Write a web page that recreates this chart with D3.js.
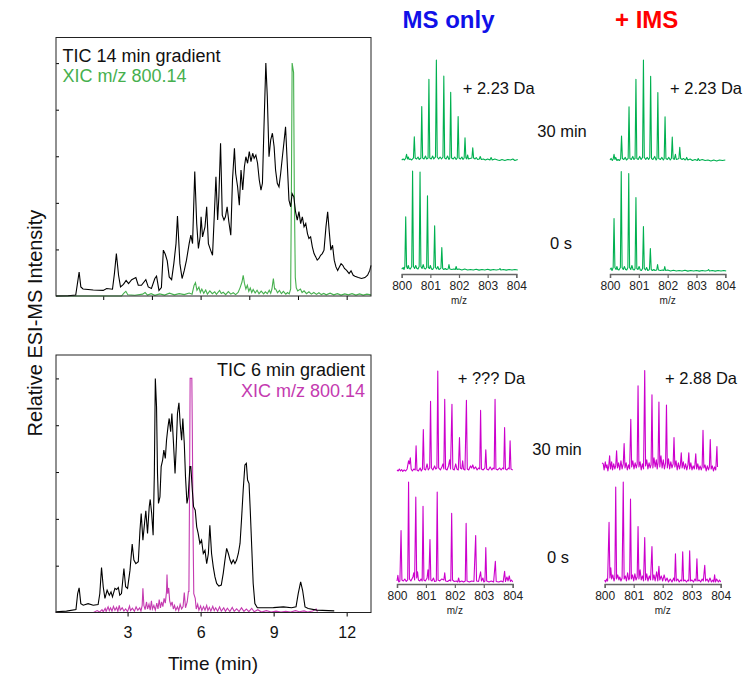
<!DOCTYPE html>
<html>
<head>
<meta charset="utf-8">
<script src="https://cdn.jsdelivr.net/npm/d3@7"></script>
<style>
body { margin: 0; background: #fff; }
text { font-family: "Liberation Sans", Arial, sans-serif; }
</style>
</head>
<body>
<div id="chart"></div>
<script>
// ---- chromatograms: [time (min), relative intensity] ----
var tic14 = [[0.06,0],[0.56,0.1],[0.87,0.4],[0.94,5.3],[1.01,10.3],[1.08,3.9],[1.17,3.0],[1.59,2.6],[2.0,2.4],[2.14,3.2],[2.38,2.9],[2.46,9.6],[2.54,18.2],[2.63,8.9],[2.71,3.9],[2.83,5.0],[2.94,6.7],[3.04,5.3],[3.17,7.0],[3.34,7.9],[3.44,4.6],[3.57,4.6],[3.75,7.0],[3.85,3.9],[3.98,3.2],[4.12,7.5],[4.19,8.5],[4.29,2.4],[4.39,3.6],[4.47,19.7],[4.55,17.9],[4.63,15.1],[4.71,8.2],[4.81,7.0],[4.90,13.9],[4.99,22.5],[5.05,34.3],[5.15,13.9],[5.24,7.5],[5.33,11.0],[5.42,15.4],[5.53,22.5],[5.60,26.1],[5.67,22.5],[5.76,53.4],[5.84,31.1],[5.91,20.4],[5.98,25.4],[6.02,34.0],[6.08,25.4],[6.18,29.7],[6.25,38.3],[6.32,22.5],[6.41,19.7],[6.49,17.5],[6.56,34.0],[6.63,51.2],[6.70,32.6],[6.75,42.6],[6.82,65.6],[6.89,34.7],[6.96,32.6],[7.02,34.0],[7.09,38.3],[7.16,31.9],[7.24,26.1],[7.31,49.8],[7.39,63.4],[7.44,52.7],[7.52,46.9],[7.59,39.0],[7.66,54.1],[7.73,45.5],[7.80,55.5],[7.86,59.8],[7.93,57.0],[8.00,62.0],[8.07,57.7],[8.14,61.3],[8.20,59.1],[8.27,60.5],[8.34,57.0],[8.41,49.8],[8.48,45.5],[8.54,48.4],[8.60,71.3],[8.68,100],[8.74,85.7],[8.81,59.8],[8.88,67.0],[8.95,69.9],[9.02,64.1],[9.08,54.1],[9.15,48.4],[9.22,46.9],[9.29,52.7],[9.36,59.8],[9.42,65.6],[9.49,72.7],[9.56,57.0],[9.63,41.2],[9.70,38.3],[9.76,44.0],[9.83,42.6],[9.90,36.2],[9.97,32.6],[10.04,36.2],[10.11,31.1],[10.18,34.0],[10.25,29.7],[10.32,31.1],[10.39,26.8],[10.45,24.7],[10.52,25.4],[10.59,21.1],[10.66,18.2],[10.73,16.8],[10.79,15.4],[10.86,16.1],[10.93,17.5],[11.00,18.2],[11.07,19.7],[11.15,29.7],[11.22,36.2],[11.28,28.3],[11.35,19.7],[11.42,21.8],[11.49,15.4],[11.56,12.5],[11.63,11.0],[11.70,12.5],[11.77,13.9],[11.84,13.2],[11.91,11.8],[12.00,11.0],[12.10,9.6],[12.18,10.8],[12.27,8.9],[12.34,8.5],[12.48,7.9],[12.61,7.5],[12.75,7.9],[12.86,8.9],[12.95,11.0],[13.0,13.2]];

var xic14 = [[0.06,0],[2.75,0],[2.85,1.2],[2.93,2.0],[3.01,0.5],[3.3,0.3],[3.62,0.8],[3.72,1.5],[3.82,0.4],[3.97,1.0],[4.12,0.3],[4.32,0.9],[4.52,0.4],[4.72,1.2],[4.92,0.5],[5.12,1.0],[5.33,0.6],[5.53,1.3],[5.65,0.8],[5.73,4.5],[5.79,5.7],[5.85,2.5],[5.93,3.8],[5.99,1.5],[6.05,3.0],[6.13,1.2],[6.21,2.6],[6.28,0.8],[6.38,2.2],[6.48,1.0],[6.58,1.8],[6.65,0.7],[6.78,2.4],[6.85,1.1],[6.93,1.6],[7.03,0.6],[7.14,1.9],[7.24,0.8],[7.34,1.4],[7.44,0.6],[7.54,1.5],[7.62,3.5],[7.70,6.0],[7.75,8.9],[7.80,5.5],[7.86,3.0],[7.92,4.6],[7.98,2.0],[8.04,3.4],[8.10,1.5],[8.16,2.8],[8.24,1.3],[8.32,2.5],[8.4,1.0],[8.49,2.1],[8.59,0.9],[8.66,1.8],[8.74,1.0],[8.82,2.5],[8.88,1.2],[8.93,3.0],[8.99,7.5],[9.04,3.0],[9.08,3.1],[9.16,1.4],[9.24,2.4],[9.32,1.0],[9.4,2.0],[9.5,0.8],[9.57,1.5],[9.64,0.9],[9.70,3.0],[9.73,45],[9.76,100],[9.82,96],[9.85,45],[9.89,8],[9.93,3.5],[9.99,2.2],[10.1,3.0],[10.17,1.5],[10.25,2.2],[10.35,1.0],[10.45,1.8],[10.55,0.8],[10.65,1.5],[10.76,0.7],[10.86,1.4],[10.96,0.6],[11.06,1.1],[11.16,0.5],[11.32,1.2],[11.47,0.5],[11.62,1.0],[11.77,0.4],[11.92,0.9],[12.07,0.5],[12.22,1.0],[12.38,0.4],[12.53,0.9],[12.68,0.4],[12.83,0.8],[13.0,0.5]];

var tic6 = [[0.05,0.3],[0.49,0.6],[0.88,1.3],[0.95,8.1],[1.01,10.5],[1.08,3.8],[1.18,3.1],[1.38,3.8],[1.59,3.1],[1.79,3.4],[1.86,8.1],[1.93,19.2],[2.0,11.0],[2.07,6.0],[2.16,9.5],[2.25,7.4],[2.32,8.8],[2.38,6.7],[2.48,10.3],[2.55,9.8],[2.62,10.7],[2.68,7.4],[2.75,8.1],[2.85,18.8],[2.92,11.0],[3.0,10.3],[3.10,18.1],[3.19,29.2],[3.26,22.4],[3.34,20.9],[3.44,21.7],[3.51,35.2],[3.56,42.3],[3.63,30.9],[3.71,39.5],[3.75,43.4],[3.82,33.8],[3.89,45.2],[3.93,48.3],[3.99,42.3],[4.05,33.0],[4.10,59.4],[4.14,100],[4.19,87.9],[4.23,59.4],[4.27,46.6],[4.33,49.4],[4.38,62.3],[4.44,65.1],[4.49,69.4],[4.55,65.8],[4.60,73.6],[4.66,79.3],[4.71,82.9],[4.77,77.2],[4.82,85.0],[4.88,73.6],[4.95,59.4],[5.0,70.8],[5.05,85.0],[5.11,89.6],[5.16,80.8],[5.22,73.6],[5.27,82.9],[5.33,72.2],[5.38,58.0],[5.44,46.6],[5.49,49.4],[5.56,62.3],[5.60,62.3],[5.66,52.3],[5.71,45.2],[5.78,43.7],[5.84,36.6],[5.90,33.8],[5.97,29.5],[6.04,30.9],[6.11,25.2],[6.18,26.6],[6.25,20.9],[6.32,25.2],[6.38,37.3],[6.45,25.2],[6.52,19.5],[6.59,15.2],[6.66,12.4],[6.75,11.3],[6.85,11.7],[6.93,16.7],[7.0,22.4],[7.07,27.4],[7.14,25.2],[7.21,22.4],[7.27,20.9],[7.34,22.4],[7.41,20.9],[7.48,22.4],[7.55,25.2],[7.62,29.5],[7.68,39.5],[7.75,52.3],[7.82,63.0],[7.88,63.7],[7.93,56.6],[7.99,55.1],[8.04,43.7],[8.10,28.1],[8.16,12.4],[8.23,3.8],[8.33,2.0],[8.58,2.0],[8.99,2.1],[9.40,2.4],[9.74,2.0],[9.92,2.4],[10.01,8.1],[10.11,13.1],[10.19,9.5],[10.29,2.4],[10.42,1.7],[10.77,1.0],[11.49,0.7]];

var xic6 = [[0.05,0],[1.6,0],[1.75,0.8],[1.85,0.2],[1.95,1.2],[2.0,0.3],[2.08,1.8],[2.12,0.5],[2.2,2.4],[2.25,0.8],[2.3,2.0],[2.36,0.6],[2.42,2.6],[2.48,1.0],[2.55,2.2],[2.6,0.5],[2.66,3.0],[2.7,1.0],[2.78,2.0],[2.85,0.6],[2.92,1.5],[3.0,0.4],[3.08,2.8],[3.12,0.8],[3.2,1.8],[3.28,0.5],[3.35,2.4],[3.42,1.0],[3.5,2.0],[3.55,0.6],[3.6,3.0],[3.63,10.3],[3.67,3.0],[3.72,1.2],[3.78,4.5],[3.82,1.5],[3.88,3.5],[3.93,1.0],[3.98,5.0],[4.02,1.5],[4.08,3.0],[4.14,1.0],[4.2,4.0],[4.25,1.5],[4.3,5.5],[4.35,2.0],[4.4,4.5],[4.45,2.5],[4.5,6.0],[4.55,4.0],[4.6,9.0],[4.62,16.2],[4.65,8.0],[4.69,10.5],[4.73,5.0],[4.78,3.0],[4.83,4.5],[4.88,1.5],[4.93,3.0],[4.98,1.0],[5.05,2.5],[5.1,0.8],[5.16,3.5],[5.22,1.5],[5.28,2.5],[5.33,8.5],[5.38,2.0],[5.45,4.5],[5.50,9.0],[5.52,9],[5.55,60],[5.57,100],[5.64,100],[5.66,78],[5.69,35],[5.72,8],[5.78,6.0],[5.82,1.5],[5.88,3.5],[5.93,1.0],[6.0,2.8],[6.05,0.8],[6.12,2.5],[6.18,1.0],[6.25,3.0],[6.3,0.8],[6.36,2.2],[6.42,0.6],[6.5,2.6],[6.56,0.8],[6.62,2.0],[6.7,0.5],[6.78,2.4],[6.85,0.6],[6.95,2.0],[7.02,0.5],[7.1,1.8],[7.2,0.4],[7.3,2.2],[7.38,0.5],[7.48,1.6],[7.58,0.4],[7.68,2.0],[7.78,0.5],[7.88,1.5],[7.98,0.4],[8.1,1.8],[8.2,0.3],[8.35,1.2],[8.5,0.2],[8.7,0.8],[8.9,0.2],[9.1,0.6],[9.3,0.2],[9.5,0.5],[9.7,0.2],[9.9,0.8],[10.05,0.3],[10.25,0.7],[10.4,0.2],[10.6,0.6],[10.75,1.5],[10.8,0.3]];

var topTicks = [2, 4, 6, 8, 10, 12];
var bottomTicks = [3, 6, 9, 12];
var yTicks = [20, 40, 60, 80, 100];

// ---- mass spectra: [m/z, relative intensity] ----
var ms14_30min = [[800.00,1],[800.05,2],[800.10,1],[800.14,3],[800.17,6.6],[800.20,2],[800.23,4],[800.26,1.5],[800.30,2],[800.35,1],[800.41,3],[800.44,24],[800.47,3],[800.52,2],[800.57,4],[800.61,1.5],[800.67,3],[800.70,54],[800.73,3],[800.78,2],[800.83,5],[800.87,2],[800.92,3],[800.95,81],[800.98,3],[801.03,2],[801.08,5],[801.12,2],[801.18,4],[801.21,100],[801.24,4],[801.29,2],[801.34,4],[801.39,2],[801.44,4],[801.47,84],[801.50,3],[801.55,2],[801.60,5],[801.65,1.5],[801.68,3],[801.71,68],[801.74,3],[801.80,2],[801.85,4],[801.90,1.5],[801.94,3],[801.97,44],[802.00,3],[802.05,2],[802.10,4],[802.14,1.5],[802.18,3],[802.21,23],[802.24,3],[802.27,2],[802.30,6],[802.33,2],[802.38,2.5],[802.45,3],[802.48,13],[802.51,3],[802.56,2],[802.60,3.5],[802.65,1.5],[802.71,2],[802.74,4.5],[802.78,1.5],[802.85,2],[802.92,1],[803.00,2],[803.08,1],[803.12,3.5],[803.16,1],[803.25,2],[803.35,1],[803.42,0.5],[803.50,1.5],[803.60,0.5],[803.70,1.5],[803.80,1],[803.88,2],[803.95,0.5],[804.05,1.5]];

var ms14_0s = [[800.00,1.5],[800.05,3],[800.08,1],[800.11,4],[800.14,54],[800.17,4],[800.20,2],[800.23,5],[800.26,2],[800.30,1.5],[800.35,4],[800.38,100],[800.41,4],[800.45,2],[800.49,5],[800.53,2],[800.57,1.5],[800.61,4],[800.64,99],[800.67,4],[800.71,2],[800.75,6],[800.79,2],[800.83,1.5],[800.87,3],[800.90,75],[800.93,3],[800.97,2],[801.00,5],[801.04,1.5],[801.08,1],[801.12,3],[801.15,45],[801.18,3],[801.22,1.5],[801.26,4],[801.30,1],[801.34,1.5],[801.37,2.5],[801.40,23],[801.43,2],[801.47,1],[801.52,2],[801.56,1],[801.62,1.5],[801.65,6],[801.68,1.5],[801.75,1],[801.82,1.5],[801.87,1],[801.90,4],[801.93,1],[802.00,1.5],[802.10,0.5],[802.20,1.5],[802.30,0.5],[802.40,1],[802.50,0.5],[802.60,1.2],[802.70,0.4],[802.80,1],[802.90,0.5],[803.00,1.2],[803.10,0.4],[803.20,1],[803.30,0.5],[803.40,1],[803.43,2],[803.46,0.5],[803.55,1],[803.65,0.4],[803.75,1],[803.85,0.5],[803.95,1],[804.05,0.5]];

var ims14_30min = [[800.00,1.5],[800.04,3],[800.08,1],[800.11,2.5],[800.14,7],[800.17,2],[800.20,4],[800.24,1],[800.28,2],[800.33,1],[800.37,3],[800.40,25],[800.43,3],[800.48,2],[800.53,4],[800.57,1.5],[800.63,3],[800.66,54],[800.69,3],[800.74,2],[800.79,5],[800.83,2],[800.87,3],[800.90,81],[800.93,3],[800.98,2],[801.03,5],[801.08,2],[801.13,4],[801.16,100],[801.19,4],[801.24,2],[801.29,4],[801.34,2],[801.38,4],[801.41,84],[801.44,3],[801.49,2],[801.55,5],[801.60,1.5],[801.63,3],[801.66,68],[801.69,3],[801.75,2],[801.80,4],[801.85,1.5],[801.88,3],[801.91,44],[801.94,3],[801.99,2],[802.04,4],[802.09,1.5],[802.13,3],[802.16,24],[802.19,3],[802.23,2],[802.27,7],[802.30,2],[802.35,2.5],[802.39,3],[802.42,14],[802.45,3],[802.50,2],[802.55,3],[802.60,1.5],[802.63,2],[802.66,4],[802.70,1.5],[802.78,2.5],[802.86,1],[802.95,2],[803.03,1],[803.06,3],[803.10,1],[803.20,2],[803.30,1],[803.40,1.5],[803.50,0.5],[803.60,1.5],[803.70,0.5],[803.80,1.5],[803.90,1],[804.00,1.5]];

var ims14_0s = [[800.00,2],[800.04,3.5],[800.07,1],[800.11,4],[800.14,53],[800.17,4],[800.21,2],[800.24,5],[800.27,2],[800.31,1.5],[800.36,4],[800.39,100],[800.42,4],[800.46,2],[800.50,5],[800.54,2],[800.58,1.5],[800.62,4],[800.65,98],[800.68,4],[800.72,2],[800.76,6],[800.80,2],[800.84,1.5],[800.87,3],[800.90,74],[800.93,3],[800.97,2],[801.01,5],[801.05,1.5],[801.09,1],[801.13,3],[801.16,45],[801.19,3],[801.23,1.5],[801.27,4],[801.31,1],[801.35,1.5],[801.37,2.5],[801.40,23],[801.43,2],[801.47,1],[801.52,2],[801.56,1],[801.62,1.5],[801.65,7],[801.68,1.5],[801.75,1],[801.82,1.5],[801.87,1],[801.90,5],[801.93,1],[802.00,1.5],[802.10,0.5],[802.20,1.2],[802.30,0.5],[802.40,1],[802.50,0.5],[802.60,1.2],[802.70,0.4],[802.80,1],[802.90,0.5],[803.00,1],[803.10,0.4],[803.20,1],[803.30,0.5],[803.39,1],[803.42,2],[803.45,0.5],[803.55,1],[803.65,0.4],[803.75,1],[803.85,0.5],[803.95,1],[804.03,0.5]];

var ms6_30min = [[800.00,2],[800.04,1],[800.08,3],[800.12,1],[800.16,2.5],[800.20,0.5],[800.25,2],[800.30,1],[800.35,3],[800.40,11],[800.43,8],[800.46,14],[800.49,3],[800.53,1],[800.58,3],[800.63,2],[800.66,26],[800.69,2],[800.74,1],[800.80,4],[800.84,1],[800.88,3],[800.91,42],[800.94,3],[800.99,2],[801.04,8],[801.08,2],[801.13,4],[801.16,70],[801.19,4],[801.24,2],[801.30,6],[801.34,3],[801.38,4],[801.41,100],[801.44,4],[801.50,2],[801.55,5],[801.59,8],[801.62,3],[801.65,72],[801.68,3],[801.73,2],[801.78,6],[801.82,12],[801.85,3],[801.90,67],[801.93,3],[801.98,2],[802.03,8],[802.07,3],[802.12,2],[802.16,34],[802.19,4],[802.24,3],[802.27,11],[802.30,3],[802.35,2],[802.40,71],[802.43,3],[802.48,2],[802.54,6],[802.58,4],[802.62,7],[802.66,3],[802.72,5],[802.77,2],[802.82,4],[802.86,3],[802.89,61],[802.92,3],[802.98,2],[803.04,4],[803.07,22],[803.10,3],[803.16,2],[803.22,5],[803.28,2],[803.32,4],[803.36,3],[803.39,72],[803.42,3],[803.48,2],[803.55,4],[803.60,2],[803.65,4],[803.69,3],[803.72,44],[803.75,3],[803.80,2],[803.85,4],[803.88,3],[803.91,31],[803.94,3],[804.00,2]];

var ms6_0s = [[800.00,2],[800.03,7.6],[800.06,1],[800.10,2],[800.14,52],[800.17,3],[800.22,2],[800.27,4],[800.32,1.5],[800.37,3],[800.40,100],[800.43,4],[800.48,2],[800.55,6],[800.58,10],[800.61,3],[800.65,85],[800.68,5],[800.71,11],[800.74,3],[800.79,2],[800.83,4],[800.87,2],[800.90,76],[800.93,3],[800.98,2],[801.04,5],[801.07,13],[801.10,3],[801.14,43],[801.17,3],[801.21,2],[801.26,5],[801.30,1.5],[801.36,2],[801.39,90],[801.42,3],[801.48,2],[801.55,4],[801.62,3],[801.65,10],[801.68,2],[801.75,1.5],[801.82,3],[801.86,2],[801.89,69],[801.92,3],[801.98,1.5],[802.05,2],[802.10,1],[802.13,5],[802.16,1],[802.24,2],[802.30,1],[802.36,2],[802.39,59],[802.42,2],[802.50,1],[802.58,2],[802.66,1.5],[802.72,47],[802.75,2],[802.82,1.5],[802.89,11],[802.92,2],[802.97,5],[803.00,1],[803.04,2],[803.07,35],[803.10,2],[803.18,1],[803.26,2],[803.34,1],[803.40,21.5],[803.43,1.5],[803.52,1],[803.60,2],[803.67,1],[803.72,11.6],[803.75,1.5],[803.80,6],[803.84,2],[803.88,7],[803.92,1.5],[803.96,3],[804.00,1]];

var ims6_30min = [[799.91,9],[799.95,8],[799.98,2],[800.02,10],[800.05,4],[800.08,7],[800.11,1],[800.14,6],[800.17,16],[800.20,3],[800.24,10],[800.27,2],[800.31,8],[800.35,3],[800.38,6],[800.41,21],[800.44,4],[800.48,9],[800.52,2],[800.56,11],[800.60,3],[800.64,8],[800.67,28],[800.70,4],[800.74,9],[800.78,2],[800.82,7],[800.86,3],[800.90,52],[800.93,5],[800.97,11],[801.01,3],[801.05,9],[801.09,4],[801.12,8],[801.15,85],[801.18,5],[801.22,10],[801.26,2],[801.30,8],[801.34,3],[801.38,100],[801.41,6],[801.45,12],[801.49,3],[801.53,9],[801.57,4],[801.60,7],[801.63,76],[801.66,4],[801.70,14],[801.74,5],[801.78,12],[801.81,3],[801.84,9],[801.87,69],[801.90,5],[801.94,16],[801.98,4],[802.02,12],[802.06,3],[802.10,9],[802.13,66],[802.16,4],[802.20,13],[802.24,3],[802.28,10],[802.32,4],[802.36,8],[802.39,34],[802.42,5],[802.46,11],[802.50,2],[802.54,9],[802.58,3],[802.61,7],[802.64,19],[802.67,4],[802.71,10],[802.75,3],[802.79,8],[802.83,2],[802.87,7],[802.90,19],[802.93,3],[802.97,9],[803.01,2],[803.05,6],[803.09,3],[803.11,7],[803.14,18],[803.17,3],[803.21,8],[803.25,2],[803.29,6],[803.33,2],[803.36,5],[803.39,41],[803.42,4],[803.46,7],[803.50,1],[803.54,6],[803.58,2],[803.61,5],[803.64,32],[803.67,3],[803.71,6],[803.75,1],[803.79,5],[803.83,2],[803.87,25],[803.89,5]];

var ims6_0s = [[800.00,3],[800.03,1],[800.07,4],[800.10,2],[800.15,60],[800.18,5],[800.21,15],[800.24,4],[800.28,8],[800.32,2],[800.35,5],[800.38,95],[800.41,4],[800.45,8],[800.49,3],[800.52,6],[800.56,2],[800.60,5],[800.64,100],[800.67,4],[800.71,7],[800.75,2],[800.79,10],[800.83,3],[800.86,5],[800.89,83],[800.92,4],[800.96,8],[801.00,2],[801.04,9],[801.08,3],[801.12,6],[801.15,56],[801.18,4],[801.22,13],[801.26,3],[801.30,7],[801.34,2],[801.38,45],[801.41,3],[801.45,9],[801.49,2],[801.54,7],[801.58,3],[801.63,36],[801.66,3],[801.70,8],[801.74,2],[801.79,11],[801.83,2],[801.87,16.5],[801.90,3],[801.95,7],[802.00,2],[802.05,8],[802.10,2],[802.15,5],[802.20,1],[802.26,4],[802.32,1],[802.38,5],[802.41,2],[802.44,29],[802.47,2],[802.52,4],[802.57,1],[802.62,3],[802.66,2],[802.69,31],[802.72,2],[802.77,3],[802.82,1],[802.87,3],[802.90,2],[802.93,32],[802.96,2],[803.01,3],[803.06,1],[803.11,4],[803.15,2],[803.18,24],[803.21,2],[803.26,3],[803.31,1],[803.36,4],[803.40,2],[803.45,17.5],[803.48,2],[803.53,4],[803.58,1],[803.63,5],[803.68,1],[803.73,3],[803.76,1],[803.79,8],[803.82,1],[803.86,4],[803.92,1],[803.96,3],[804.00,1]];

var mzTicks = [800, 801, 802, 803, 804];

var green = "#00b050", greenXic = "#46b04e", magenta = "#cc00cc", magentaXic = "#c43ab0";

var svg = d3.select("#chart").append("svg")
  .attr("width", 755).attr("height", 677);

// ---- chromatogram panels ----
var x = d3.scaleLinear().domain([0.06, 13]).range([56, 371]);
var yTop = d3.scaleLinear().domain([0, 111]).range([296, 37.5]);
var yBot = d3.scaleLinear().domain([0, 110]).range([612.5, 355]);

function chromPanel(y, tic, xic, xicColor, xTicks, labels) {
  var g = svg.append("g");
  var line = d3.line().x(function(d) { return x(d[0]); }).y(function(d) { return y(d[1]); });

  var xa = g.append("g")
    .attr("transform", "translate(0," + y(0) + ")")
    .call(d3.axisBottom(x).tickValues(xTicks).tickSize(4).tickPadding(10)
      .tickFormat(labels ? d3.format("d") : ""));
  xa.select(".domain").remove();
  xa.selectAll("text").style("font-size", "16px").attr("fill", "#111");

  var ya = g.append("g")
    .attr("transform", "translate(" + x.range()[0] + ",0)")
    .call(d3.axisLeft(y).tickValues(yTicks).tickSize(-3).tickFormat(""));
  ya.select(".domain").remove();

  g.append("path").datum(xic).attr("d", line)
    .attr("fill", "none").attr("stroke", xicColor).attr("stroke-width", 1.1);
  g.append("path").datum(tic).attr("d", line)
    .attr("fill", "none").attr("stroke", "#000").attr("stroke-width", 1.1);

  g.append("rect")
    .attr("x", x.range()[0]).attr("y", y.range()[1])
    .attr("width", x.range()[1] - x.range()[0]).attr("height", y.range()[0] - y.range()[1])
    .attr("fill", "none").attr("stroke", "#222").attr("stroke-width", 1);
}

chromPanel(yTop, tic14, xic14, greenXic, topTicks, false);
chromPanel(yBot, tic6, xic6, magentaXic, bottomTicks, true);

svg.append("text").attr("x", 62.5).attr("y", 61.5).text("TIC 14 min gradient")
  .style("font-size", "18px").attr("fill", "#111");
svg.append("text").attr("x", 62.5).attr("y", 81.5).text("XIC m/z 800.14")
  .style("font-size", "18px").attr("fill", greenXic);
svg.append("text").attr("x", 365).attr("y", 375.5).attr("text-anchor", "end").text("TIC 6 min gradient")
  .style("font-size", "18px").attr("fill", "#111");
svg.append("text").attr("x", 365).attr("y", 396.5).attr("text-anchor", "end").text("XIC m/z 800.14")
  .style("font-size", "18px").attr("fill", magentaXic);

svg.append("text").attr("x", 213).attr("y", 670).attr("text-anchor", "middle")
  .text("Time (min)").style("font-size", "19px").attr("fill", "#111");
svg.append("text").attr("transform", "translate(42,323) rotate(-90)").attr("text-anchor", "middle")
  .text("Relative ESI-MS Intensity").style("font-size", "20px").attr("fill", "#111");

// ---- mass spectra ----
function spectrum(data, xr, yr, color) {
  var xs = d3.scaleLinear().domain([800, 804]).range(xr);
  var ys = d3.scaleLinear().domain([0, 100]).range(yr);
  svg.append("path").datum(data)
    .attr("d", d3.line().x(function(d) { return xs(d[0]); }).y(function(d) { return ys(d[1]); }))
    .attr("fill", "none").attr("stroke", color).attr("stroke-width", 1.1)
    .attr("stroke-linejoin", "round");
}

function mzAxis(xr, yPos) {
  var xs = d3.scaleLinear().domain([800, 804]).range(xr);
  var a = svg.append("g").attr("transform", "translate(0," + yPos + ")")
    .call(d3.axisBottom(xs).tickValues(mzTicks).tickSize(4).tickPadding(3).tickFormat(d3.format("d")));
  a.select(".domain").attr("stroke", "#666").attr("stroke-width", 1.4);
  a.selectAll(".tick line").attr("stroke", "#666").attr("stroke-width", 1.2);
  a.selectAll("text").style("font-size", "12px").attr("fill", "#222");
  svg.append("text").attr("x", (xr[0] + xr[1]) / 2).attr("y", yPos + 29.5)
    .attr("text-anchor", "middle").text("m/z").style("font-size", "10px").attr("fill", "#222");
}

var colTopMS = [401.7, 516.3], colTopIMS = [610, 725.3];
var colBotMS = [397, 512.7], colBotIMS = [604.7, 720.7];

spectrum(ms14_30min, colTopMS, [161, 60], green);
spectrum(ms14_0s, colTopMS, [270.5, 171], green);
spectrum(ims14_30min, colTopIMS, [161.5, 60], green);
spectrum(ims14_0s, colTopIMS, [271.5, 171.5], green);
mzAxis(colTopMS, 274);
mzAxis(colTopIMS, 274);

spectrum(ms6_30min, colBotMS, [472, 371], magenta);
spectrum(ms6_0s, colBotMS, [583, 482], magenta);
spectrum(ims6_30min, colBotIMS, [472, 370.5], magenta);
spectrum(ims6_0s, colBotIMS, [583, 482], magenta);
mzAxis(colBotMS, 584);
mzAxis(colBotIMS, 584);

// ---- labels on the spectra side ----
svg.append("text").attr("x", 402.5).attr("y", 27.5).text("MS only")
  .style("font-size", "24px").style("font-weight", "bold").attr("fill", "#1010e8");
svg.append("text").attr("x", 615).attr("y", 27.5).text("+ IMS")
  .style("font-size", "24px").style("font-weight", "bold").attr("fill", "#ff0000");

var smallLabels = [
  {t: "+ 2.23 Da", x: 462.7, y: 93.5, a: "start"},
  {t: "+ 2.23 Da", x: 670, y: 93.5, a: "start"},
  {t: "30 min", x: 562, y: 136.5, a: "middle"},
  {t: "0 s", x: 561, y: 248.5, a: "middle"},
  {t: "+ ??? Da", x: 457.7, y: 384, a: "start"},
  {t: "+ 2.88 Da", x: 665, y: 384, a: "start"},
  {t: "30 min", x: 557, y: 455, a: "middle"},
  {t: "0 s", x: 558, y: 562.5, a: "middle"}
];
svg.selectAll("text.lab").data(smallLabels).enter().append("text")
  .attr("class", "lab")
  .attr("x", function(d) { return d.x; }).attr("y", function(d) { return d.y; })
  .attr("text-anchor", function(d) { return d.a; })
  .text(function(d) { return d.t; })
  .style("font-size", "16.5px").attr("fill", "#111");
</script>
</body>
</html>
